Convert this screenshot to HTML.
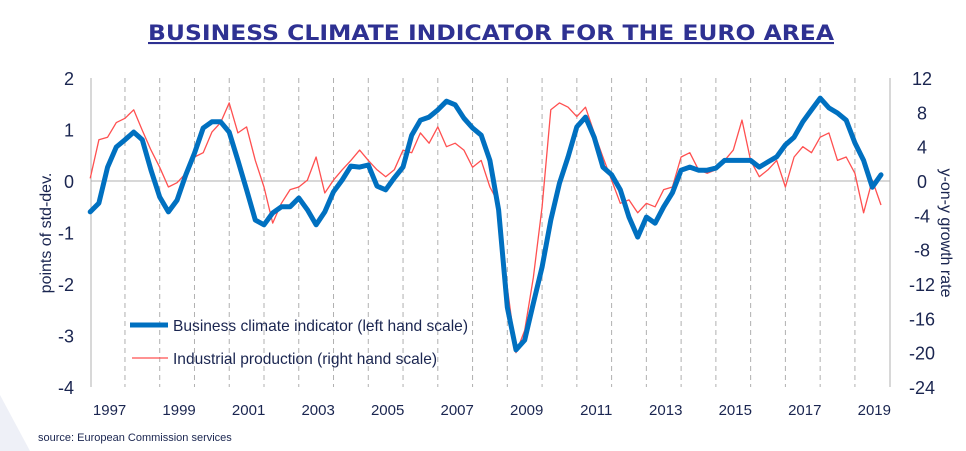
<!DOCTYPE html>
<html><head><meta charset="utf-8"><style>
body{margin:0;background:#fff;width:966px;height:451px;overflow:hidden;font-family:"Liberation Sans",sans-serif}
</style></head><body>
<svg width="966" height="451" viewBox="0 0 966 451" style="position:absolute;left:0;top:0">
<polygon points="0,395 30,451 0,451" fill="#eef0f7"/>
<text x="491" y="40" text-anchor="middle" font-family="DejaVu Sans, sans-serif" font-size="21" font-weight="bold" fill="#2e3192" text-decoration="underline" textLength="686" lengthAdjust="spacingAndGlyphs">BUSINESS CLIMATE INDICATOR FOR THE EURO AREA</text>
<g id="grid"></g>
<g id="axes"></g>
<g id="series"></g>
<g>
<line x1="130" y1="325" x2="168" y2="325" stroke="#0070c0" stroke-width="5"/>
<text x="173" y="331" font-size="16" fill="#1a2550" textLength="295" lengthAdjust="spacingAndGlyphs">Business climate indicator (left hand scale)</text>
<line x1="132" y1="358" x2="168" y2="358" stroke="#ff5050" stroke-width="1.2"/>
<text x="173" y="364" font-size="16" fill="#1a2550" textLength="264" lengthAdjust="spacingAndGlyphs">Industrial production (right hand scale)</text>
</g>
<text transform="translate(51,233) rotate(-90)" text-anchor="middle" font-size="16" fill="#1a2550">points of std-dev.</text>
<text transform="translate(941,233) rotate(90)" text-anchor="middle" font-size="16" fill="#1a2550">y-on-y growth rate</text>
<text x="38" y="441" font-size="11" fill="#1a2550">source: European Commission services</text>
</svg>
<script>
const startYear = 1997;
const bciValues = [-0.6,-0.43,0.27,0.66,0.8,0.95,0.8,0.21,-0.31,-0.6,-0.37,0.12,0.54,1.03,1.15,1.15,0.95,0.4,-0.17,-0.76,-0.85,-0.62,-0.5,-0.5,-0.33,-0.56,-0.85,-0.6,-0.21,0.02,0.29,0.27,0.31,-0.1,-0.17,0.06,0.27,0.89,1.18,1.24,1.38,1.55,1.48,1.22,1.03,0.89,0.4,-0.56,-2.45,-3.28,-3.09,-2.37,-1.67,-0.76,-0.04,0.47,1.05,1.24,0.85,0.27,0.12,-0.17,-0.7,-1.09,-0.7,-0.82,-0.5,-0.23,0.21,0.27,0.21,0.21,0.25,0.4,0.4,0.4,0.4,0.27,0.37,0.47,0.7,0.85,1.15,1.38,1.61,1.42,1.32,1.18,0.74,0.4,-0.12,0.12];
const ipValues = [0.3,4.8,5.1,6.8,7.3,8.3,5.9,3.6,1.6,-0.7,-0.2,0.9,2.8,3.3,5.7,6.8,9.1,5.6,6.3,2.4,-0.7,-4.9,-2.6,-1.0,-0.7,0.1,2.8,-1.4,0.1,1.3,2.4,3.6,2.4,1.3,0.5,1.3,3.6,3.3,5.6,4.4,6.3,4.0,4.4,3.6,1.6,2.4,-0.7,-2.6,-12.4,-20.0,-17.4,-11.2,-3.0,8.3,9.1,8.6,7.5,8.6,5.6,2.8,0.1,-2.6,-2.2,-3.7,-2.6,-3.0,-1.0,-0.7,2.8,3.3,1.3,0.9,1.3,2.4,3.6,7.1,2.4,0.5,1.3,2.4,-0.7,2.8,4.0,3.3,5.1,5.6,2.4,2.8,0.9,-3.7,0.1,-2.8];
const leftTicks = [2,1,0,-1,-2,-3,-4];
const rightTicks = [12,8,4,0,-4,-8,-12,-16,-20,-24];
const yearLabels = ["1997","1999","2001","2003","2005","2007","2009","2011","2013","2015","2017","2019"];

const X0=90.2, PXY=34.76, TOP=78, BOT=387;
function xq(i){return X0+i*PXY/4;}
function xYear(y){return X0+(y-startYear)*PXY;}
function yL(v){return TOP+(2-v)*(BOT-TOP)/6;}
function yR(v){return TOP+(12-v)*(BOT-TOP)/36;}
const NS="http://www.w3.org/2000/svg";
function mk(tag,attrs,parent){const e=document.createElementNS(NS,tag);for(const k in attrs)e.setAttribute(k,attrs[k]);parent.appendChild(e);return e;}
const grid=document.getElementById('grid'), axes=document.getElementById('axes'), series=document.getElementById('series');
for(let y=1998;y<=2019;y++){
  const l=mk('line',{x1:xYear(y),x2:xYear(y),y1:TOP,y2:BOT,stroke:'#b0b0b0','stroke-width':1,'stroke-dasharray':'5,4'},grid);
  
  
}
const z=mk('line',{x1:91,x2:890,y1:yL(0),y2:yL(0),stroke:'#b0b0b0','stroke-width':1},axes);


const la=mk('line',{x1:91,x2:91,y1:TOP,y2:BOT,stroke:'#b0b0b0','stroke-width':1},axes);


const ra=mk('line',{x1:890,x2:890,y1:TOP,y2:BOT,stroke:'#b0b0b0','stroke-width':1},axes);


leftTicks.forEach(v=>{const t=mk('text',{x:74,y:yL(v)+7,'text-anchor':'end','font-size':18,fill:'#1a2550'},axes);t.textContent=v;
  
  });
rightTicks.forEach(v=>{const t=mk('text',{x:922,y:yR(v)+7,'text-anchor':'middle','font-size':18,fill:'#1a2550'},axes);t.textContent=v;
  
  });
yearLabels.forEach(s=>{const y=+s;const t=mk('text',{x:xYear(y)+PXY/2+2,y:415,'text-anchor':'middle','font-size':15,fill:'#1a2550'},axes);t.textContent=s;
  
  });
const ip=mk('polyline',{points:ipValues.map((v,i)=>xq(i).toFixed(1)+','+yR(v).toFixed(1)).join(' '),fill:'none',stroke:'#ff5050','stroke-width':1.3,'stroke-linejoin':'round'},series);


const bci=mk('polyline',{points:bciValues.map((v,i)=>xq(i).toFixed(1)+','+yL(v).toFixed(1)).join(' '),fill:'none',stroke:'#0070c0','stroke-width':5,'stroke-linejoin':'round','stroke-linecap':'round'},series);


</script>
</body></html>
